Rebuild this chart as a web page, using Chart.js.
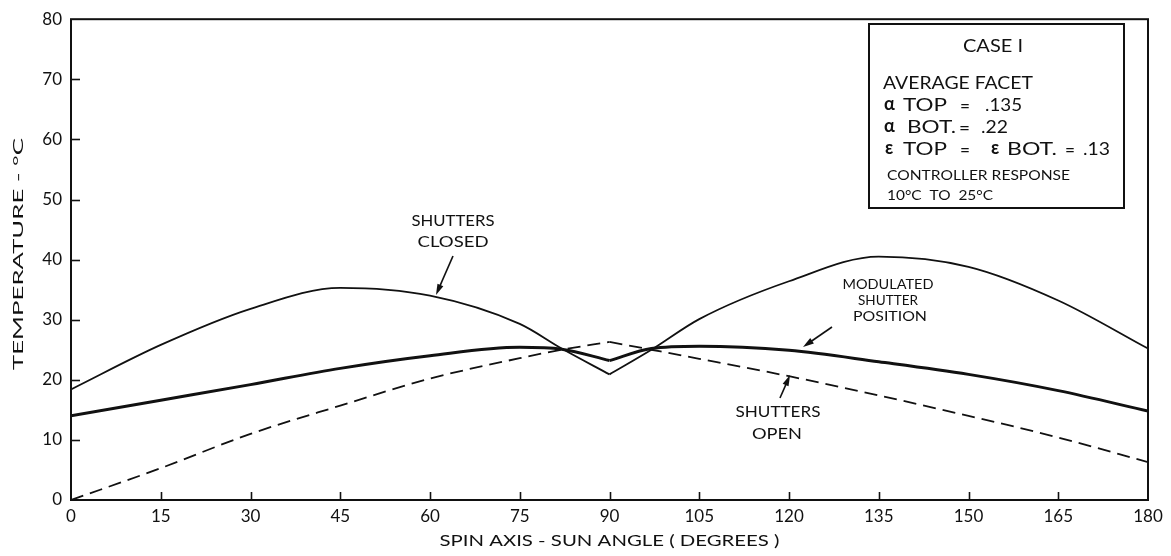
<!DOCTYPE html>
<html>
<head>
<meta charset="utf-8">
<script src="https://cdn.jsdelivr.net/npm/chart.js@4.4.1/dist/chart.umd.min.js"></script>
<style>
  html, body { margin: 0; padding: 0; background: #fff; }
  canvas { display: block; }
</style>
</head>
<body>
<canvas id="c" width="1171" height="556"></canvas>
<script>
// Spin axis - sun angle, degrees
const angles = [0, 15, 30, 45, 60, 75, 82, 90, 97, 105, 120, 135, 150, 165, 180];
// Facet temperature, deg C
const closedTemps    = [18.4, 25.8, 31.8, 35.3, 34.0, 29.3, 25.2, 20.9, 25.0, 30.1, 36.4, 40.5, 38.8, 33.2, 25.2];
const modulatedTemps = [14.0, 16.6, 19.2, 21.9, 24.0, 25.4, 25.1, 23.2, 25.2, 25.6, 24.9, 23.0, 20.9, 18.2, 14.8];
const openTemps      = [0.0, 5.3, 11.0, 15.7, 20.2, 23.6, 25.0, 26.3, 25.0, 23.5, 20.6, 17.4, 14.0, 10.4, 6.3];

const xTicks = [0, 15, 30, 45, 60, 75, 90, 105, 120, 135, 150, 165, 180];
const yTicks = [0, 10, 20, 30, 40, 50, 60, 70, 80];

const FONT = 'Lato, "Open Sans", sans-serif';
const INK = '#111';

// each curve has a corner at 90 deg, so it is drawn as two smooth halves
function halves(values) {
  const left = [], right = [];
  angles.forEach((a, i) => {
    if (a <= 90) left.push({ x: a, y: values[i] });
    if (a >= 90) right.push({ x: a, y: values[i] });
  });
  return [left, right];
}

function curve(values, width, dash) {
  return halves(values).map(pts => ({
    data: pts,
    borderColor: INK,
    borderWidth: width,
    borderDash: dash,
    pointRadius: 0,
    fill: false,
    cubicInterpolationMode: 'monotone'
  }));
}

const datasets = [
  ...curve(closedTemps, 1.8, []),
  ...curve(modulatedTemps, 3.0, []),
  ...curve(openTemps, 1.8, [13, 7])
];

// text stretched horizontally to a given width (wide lettering)
function wideText(ctx, text, x, y, width, align) {
  const m = ctx.measureText(text).width;
  ctx.save();
  ctx.translate(x, y);
  ctx.scale(width / m, 1);
  ctx.textAlign = align || 'left';
  ctx.fillText(text, 0, 0);
  ctx.restore();
}

function arrow(ctx, x1, y1, x2, y2) {
  const ang = Math.atan2(y2 - y1, x2 - x1);
  const len = 11, half = 3.2;
  ctx.beginPath();
  ctx.moveTo(x1, y1);
  ctx.lineTo(x2 - Math.cos(ang) * len * 0.8, y2 - Math.sin(ang) * len * 0.8);
  ctx.lineWidth = 1.6;
  ctx.strokeStyle = INK;
  ctx.stroke();
  ctx.beginPath();
  ctx.moveTo(x2, y2);
  ctx.lineTo(x2 - Math.cos(ang) * len - Math.sin(ang) * half, y2 - Math.sin(ang) * len + Math.cos(ang) * half);
  ctx.lineTo(x2 - Math.cos(ang) * len + Math.sin(ang) * half, y2 - Math.sin(ang) * len - Math.cos(ang) * half);
  ctx.closePath();
  ctx.fillStyle = INK;
  ctx.fill();
}

const frame = {
  id: 'frame',
  beforeDraw(chart) {
    const ctx = chart.ctx;
    ctx.save();
    ctx.fillStyle = '#fff';
    ctx.fillRect(0, 0, chart.width, chart.height);
    ctx.restore();
  },
  afterDraw(chart) {
    const ctx = chart.ctx;
    const a = chart.chartArea;
    const xs = chart.scales.x, ys = chart.scales.y;
    ctx.save();
    // plot frame
    ctx.strokeStyle = INK;
    ctx.lineWidth = 2;
    ctx.strokeRect(a.left, a.top, a.right - a.left, a.bottom - a.top);
    // inward tick marks
    ctx.lineWidth = 1.6;
    xTicks.slice(1, -1).forEach(v => {
      const px = Math.round(xs.getPixelForValue(v)) + 0.5;
      ctx.beginPath(); ctx.moveTo(px, a.bottom); ctx.lineTo(px, a.bottom - 8); ctx.stroke();
    });
    yTicks.slice(1, -1).forEach(v => {
      const py = Math.round(ys.getPixelForValue(v)) + 0.5;
      ctx.beginPath(); ctx.moveTo(a.left, py); ctx.lineTo(a.left + 9, py); ctx.stroke();
    });

    ctx.fillStyle = INK;
    ctx.textBaseline = 'middle';

    // axis titles
    ctx.font = '15px ' + FONT;
    wideText(ctx, 'SPIN AXIS - SUN ANGLE ( DEGREES )', (a.left + a.right) / 2, 541, 340, 'center');
    ctx.font = '14px ' + FONT;
    ctx.save();
    ctx.translate(18, 254);
    ctx.rotate(-Math.PI / 2);
    wideText(ctx, 'TEMPERATURE - °C', 0, 0, 232, 'center');
    ctx.restore();

    // curve labels
    ctx.font = '16px ' + FONT;
    wideText(ctx, 'SHUTTERS', 453, 221, 83, 'center');
    wideText(ctx, 'CLOSED', 453, 242, 71, 'center');
    wideText(ctx, 'SHUTTERS', 778, 412, 85, 'center');
    wideText(ctx, 'OPEN', 777, 434, 50, 'center');
    ctx.font = '13px ' + FONT;
    wideText(ctx, 'MODULATED', 888, 285, 91, 'center');
    wideText(ctx, 'SHUTTER', 888, 301, 60, 'center');
    wideText(ctx, 'POSITION', 890, 317, 74, 'center');

    arrow(ctx, 453, 256, 436, 295);
    arrow(ctx, 832, 327, 803, 347);
    arrow(ctx, 780, 398, 790, 375);

    // case box
    ctx.lineWidth = 2;
    ctx.strokeRect(869, 24, 255, 184);
    ctx.font = '17px ' + FONT;
    wideText(ctx, 'CASE I', 993, 47, 60, 'center');
    ctx.font = '18px ' + FONT;
    wideText(ctx, 'AVERAGE FACET', 883, 83, 150);
    // α TOP = .135
    ctx.font = 'bold 18px ' + FONT;
    ctx.fillText('α', 884, 104);
    ctx.font = '18px ' + FONT;
    wideText(ctx, 'TOP', 903, 105, 44);
    wideText(ctx, '=', 960, 106, 10);
    wideText(ctx, '.135', 985, 105, 37);
    // α BOT.= .22
    ctx.font = 'bold 18px ' + FONT;
    ctx.fillText('α', 884, 126);
    ctx.font = '18px ' + FONT;
    wideText(ctx, 'BOT.', 907, 127, 49);
    wideText(ctx, '=', 959, 128, 11);
    wideText(ctx, '.22', 981, 127, 27);
    // ε TOP = ε BOT. = .13
    ctx.font = 'bold 18px ' + FONT;
    ctx.fillText('ε', 885, 148);
    ctx.fillText('ε', 991, 148);
    ctx.font = '18px ' + FONT;
    wideText(ctx, 'TOP', 903, 149, 44);
    wideText(ctx, '=', 960, 150, 10);
    wideText(ctx, 'BOT.', 1007, 149, 50);
    wideText(ctx, '=', 1065, 150, 10);
    wideText(ctx, '.13', 1083, 149, 27);
    ctx.font = '14px ' + FONT;
    wideText(ctx, 'CONTROLLER RESPONSE', 887, 175, 183);
    wideText(ctx, '10°C  TO  25°C', 887, 195, 106);
    ctx.restore();
  }
};

new Chart(document.getElementById('c'), {
  type: 'line',
  data: { datasets },
  plugins: [frame],
  options: {
    responsive: false,
    animation: false,
    devicePixelRatio: 1,
    layout: { padding: { left: 0, right: 23, top: 14, bottom: 0 } },
    plugins: { legend: { display: false }, tooltip: { enabled: false } },
    scales: {
      x: {
        type: 'linear',
        min: 0, max: 180,
        afterBuildTicks: s => { s.ticks = xTicks.map(v => ({ value: v })); },
        afterFit: s => { s.height = 56; },
        grid: { display: false, drawTicks: false },
        border: { display: false },
        ticks: { color: INK, padding: 6, maxRotation: 0, font: { family: FONT, size: 17 } }
      },
      y: {
        type: 'linear',
        min: 0, max: 80,
        afterBuildTicks: s => { s.ticks = yTicks.map(v => ({ value: v })); },
        afterFit: s => { s.width = 71; },
        grid: { display: false, drawTicks: false },
        border: { display: false },
        ticks: { color: INK, padding: 9, font: { family: FONT, size: 17 } }
      }
    }
  }
});
</script>
</body>
</html>
